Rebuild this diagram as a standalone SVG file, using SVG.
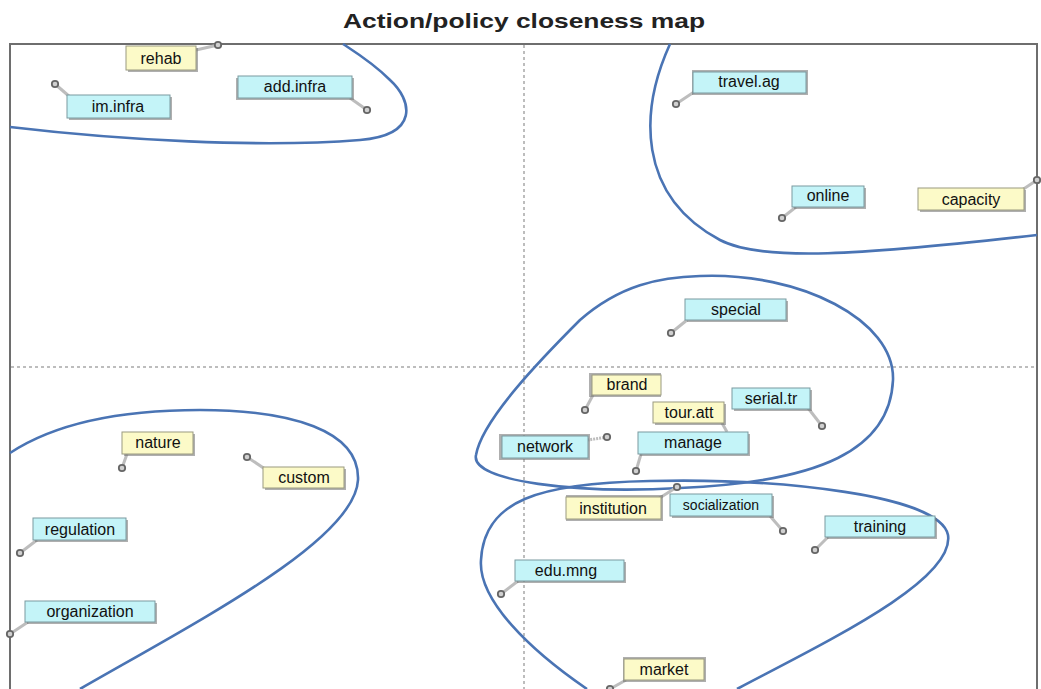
<svg xmlns="http://www.w3.org/2000/svg" width="1041" height="689" viewBox="0 0 1041 689">
<style>
.frame{fill:none;stroke:#6e6e6e;stroke-width:2}
.grid{stroke:#a8a8a8;stroke-width:1.5;stroke-dasharray:3 3;fill:none}
.clu{fill:none;stroke:#4a74b4;stroke-width:2.6}
.lead{stroke:#bdbdbd;stroke-width:3;fill:none}
.sh{fill:#6d6d6d;opacity:.55}
.c{fill:#c4f4f8;stroke:#7a9aa0;stroke-width:1}
.y{fill:#fcfac8;stroke:#9a9a80;stroke-width:1}
.t{font-family:"Liberation Sans",Arial,sans-serif;font-size:16px;fill:#111;text-anchor:middle}
.pin{fill:#d0d0d0;stroke:#666;stroke-width:1.8}
.title{font-family:"Liberation Sans",Arial,sans-serif;font-weight:bold;font-size:21px;fill:#222;text-anchor:middle}
</style>
<rect width="1041" height="689" fill="#fff"/>
<text class="title" x="524" y="28" textLength="362" lengthAdjust="spacingAndGlyphs">Action/policy closeness map</text>
<rect class="frame" x="10" y="44" width="1027" height="660"/>
<line class="grid" x1="524" y1="45" x2="524" y2="689"/>
<line class="grid" x1="11" y1="367" x2="1036" y2="367"/>
<g id="clusters">
<path class="clu" d="M10,127 C120,140 260,148 360,140 C420,135 412,100 390,80 C372,62 352,50 343,44"/>
<path class="clu" d="M670,44 C640,110 636,195 720,240 C762,262 860,255 1037,235"/>
<path class="clu" d="M700,276 C800,272 895,320 893,380 C890,450 820,482 680,488 C580,494 470,482 476,455 C482,420 540,360 580,320 C620,285 660,277 700,276 Z"/>
<path class="clu" d="M587,689 C530,650 478,600 481,560 C484,500 540,483 650,481 C780,478 940,495 948,535 C955,580 830,640 737,689"/>
<path class="clu" d="M10,453 C60,420 130,410 200,410 C290,410 360,430 358,480 C355,540 200,620 80,689"/>
</g>
<g id="connectors">
<path class="lead" d="M218,45 L196,50"/>
<path class="lead" d="M55,84 L70,97"/>
<path class="lead" d="M367,110 L350,98"/>
<path class="lead" d="M676,104 L694,92"/>
<path class="lead" d="M782,218 L796,207"/>
<path class="lead" d="M1037,180 L1022,190"/>
<path class="lead" d="M671,333 L687,320"/>
<path class="lead" d="M585,410 L593,395"/>
<path class="lead" d="M727,432 L722,423"/>
<path class="lead" d="M822,426 L808,408"/>
<path class="lead" d="M607,437 L588,440" stroke-dasharray="2 1"/>
<path class="lead" d="M636,471 L641,454"/>
<path class="lead" d="M677,487 L658,499"/>
<path class="lead" d="M783,531 L770,516"/>
<path class="lead" d="M815,550 L828,537"/>
<path class="lead" d="M501,594 L518,581"/>
<path class="lead" d="M610,689 L626,680"/>
<path class="lead" d="M122,468 L127,454"/>
<path class="lead" d="M247,457 L265,469"/>
<path class="lead" d="M20,553 L37,540"/>
<path class="lead" d="M10,634 L28,622"/>
</g>
<g id="n-rehab"><rect class="sh" x="128" y="48" width="70" height="24"/><rect class="y" x="126" y="46" width="70" height="24"/><text class="t" x="161" y="64">rehab</text><circle class="pin" cx="218" cy="45" r="3.2"/></g>
<g id="n-im-infra"><rect class="sh" x="69" y="97" width="103" height="23"/><rect class="c" x="67" y="95" width="103" height="23"/><text class="t" x="118" y="112">im.infra</text><circle class="pin" cx="55" cy="84" r="3.2"/></g>
<g id="n-add-infra"><rect class="sh" x="236" y="78" width="118" height="22"/><rect class="c" x="238" y="76" width="114" height="22"/><text class="t" x="295" y="92">add.infra</text><circle class="pin" cx="367" cy="110" r="3.2"/></g>
<g id="n-travel-ag"><rect class="sh" x="692" y="70" width="116" height="25"/><rect class="c" x="693" y="72" width="113" height="21"/><text class="t" x="749" y="87">travel.ag</text><circle class="pin" cx="676" cy="104" r="3.2"/></g>
<g id="n-online"><rect class="sh" x="794" y="188" width="72" height="21"/><rect class="c" x="792" y="186" width="72" height="21"/><text class="t" x="828" y="201">online</text><circle class="pin" cx="782" cy="218" r="3.2"/></g>
<g id="n-capacity"><rect class="sh" x="920" y="190" width="106" height="22"/><rect class="y" x="918" y="188" width="106" height="22"/><text class="t" x="971" y="205">capacity</text><circle class="pin" cx="1037" cy="180" r="3.2"/></g>
<g id="n-special"><rect class="sh" x="687" y="301" width="101" height="21"/><rect class="c" x="685" y="299" width="101" height="21"/><text class="t" x="736" y="315">special</text><circle class="pin" cx="671" cy="333" r="3.2"/></g>
<g id="n-brand"><rect class="sh" x="589" y="373" width="72" height="24"/><rect class="y" x="592" y="375" width="69" height="20"/><text class="t" x="627" y="390">brand</text><circle class="pin" cx="585" cy="410" r="3.2"/></g>
<g id="n-tour-att"><rect class="sh" x="655" y="404" width="71" height="21"/><rect class="y" x="653" y="402" width="71" height="21"/><text class="t" x="689" y="418">tour.att</text></g>
<g id="n-serial-tr"><rect class="sh" x="734" y="390" width="78" height="21"/><rect class="c" x="732" y="388" width="78" height="21"/><text class="t" x="771" y="404">serial.tr</text><circle class="pin" cx="822" cy="426" r="3.2"/></g>
<g id="n-network"><rect class="sh" x="499" y="434" width="91" height="26"/><rect class="c" x="502" y="436" width="86" height="22"/><text class="t" x="545" y="452">network</text><circle class="pin" cx="607" cy="437" r="3.2"/></g>
<g id="n-manage"><rect class="sh" x="640" y="434" width="110" height="22"/><rect class="c" x="638" y="432" width="110" height="22"/><text class="t" x="693" y="448">manage</text><circle class="pin" cx="636" cy="471" r="3.2"/></g>
<g id="n-institution"><rect class="sh" x="566" y="495" width="97" height="26"/><rect class="y" x="566" y="497" width="95" height="22"/><text class="t" x="613" y="514">institution</text><circle class="pin" cx="677" cy="487" r="3.2"/></g>
<g id="n-socialization"><rect class="sh" x="672" y="496" width="102" height="22"/><rect class="c" x="670" y="494" width="102" height="22"/><text class="t" x="721" y="510" style="font-size:14px">socialization</text><circle class="pin" cx="783" cy="531" r="3.2"/></g>
<g id="n-training"><rect class="sh" x="827" y="518" width="110" height="21"/><rect class="c" x="825" y="516" width="110" height="21"/><text class="t" x="880" y="532">training</text><circle class="pin" cx="815" cy="550" r="3.2"/></g>
<g id="n-edu-mng"><rect class="sh" x="517" y="562" width="109" height="21"/><rect class="c" x="515" y="560" width="109" height="21"/><text class="t" x="566" y="576">edu.mng</text><circle class="pin" cx="501" cy="594" r="3.2"/></g>
<g id="n-market"><rect class="sh" x="623" y="657" width="83" height="25"/><rect class="y" x="624" y="659" width="80" height="21"/><text class="t" x="664" y="675">market</text><circle class="pin" cx="610" cy="689" r="3.2"/></g>
<g id="n-nature"><rect class="sh" x="124" y="434" width="71" height="22"/><rect class="y" x="122" y="432" width="71" height="22"/><text class="t" x="158" y="448">nature</text><circle class="pin" cx="122" cy="468" r="3.2"/></g>
<g id="n-custom"><rect class="sh" x="265" y="469" width="81" height="21"/><rect class="y" x="263" y="467" width="81" height="21"/><text class="t" x="304" y="483">custom</text><circle class="pin" cx="247" cy="457" r="3.2"/></g>
<g id="n-regulation"><rect class="sh" x="35" y="520" width="93" height="22"/><rect class="c" x="33" y="518" width="93" height="22"/><text class="t" x="80" y="535">regulation</text><circle class="pin" cx="20" cy="553" r="3.2"/></g>
<g id="n-organization"><rect class="sh" x="27" y="603" width="130" height="21"/><rect class="c" x="25" y="601" width="130" height="21"/><text class="t" x="90" y="617">organization</text><circle class="pin" cx="10" cy="634" r="3.2"/></g>
</svg>
